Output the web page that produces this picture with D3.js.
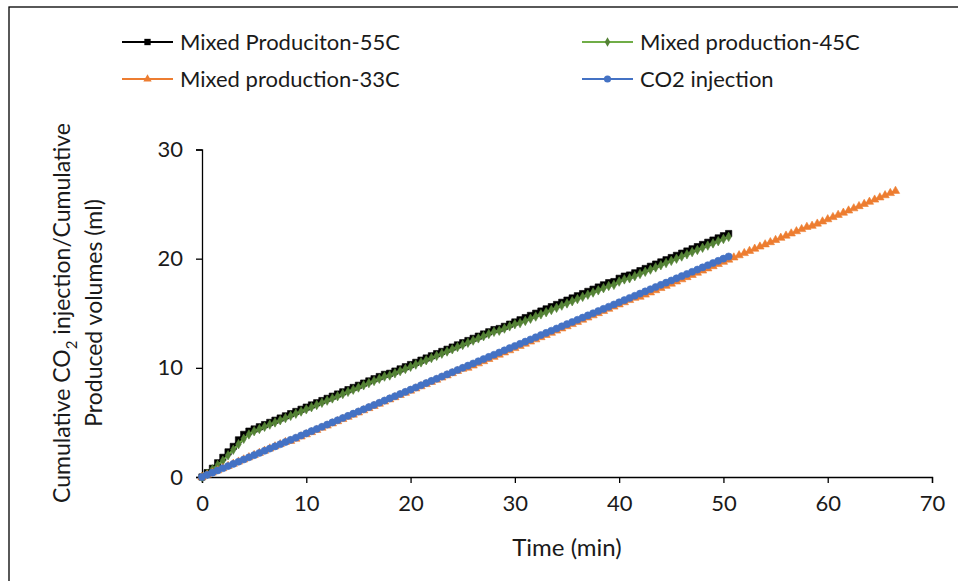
<!DOCTYPE html>
<html><head><meta charset="utf-8">
<script src="https://cdn.jsdelivr.net/npm/d3@7"></script>
<style>body{margin:0;background:#fff}svg{display:block}text{font-family:Lato,"Open Sans",sans-serif;fill:#1a1a1a}</style>
</head><body><svg id="c" width="958" height="581"></svg>
<script>
const time = [0,0.5,1,1.5,2,2.5,3,3.5,4,4.5,5,5.5,6,6.5,7,7.5,8,8.5,9,9.5,10,10.5,11,11.5,12,12.5,13,13.5,14,14.5,15,15.5,16,16.5,17,17.5,18,18.5,19,19.5,20,20.5,21,21.5,22,22.5,23,23.5,24,24.5,25,25.5,26,26.5,27,27.5,28,28.5,29,29.5,30,30.5,31,31.5,32,32.5,33,33.5,34,34.5,35,35.5,36,36.5,37,37.5,38,38.5,39,39.5,40,40.5,41,41.5,42,42.5,43,43.5,44,44.5,45,45.5,46,46.5,47,47.5,48,48.5,49,49.5,50,50.5,51,51.5,52,52.5,53,53.5,54,54.5,55,55.5,56,56.5,57,57.5,58,58.5,59,59.5,60,60.5,61,61.5,62,62.5,63,63.5,64,64.5,65,65.5,66,66.5];
const mixed55 = [0,0.4,0.8,1.3,1.8,2.3,2.8,3.4,3.9,4.2,4.4,4.6,4.8,5.0,5.2,5.4,5.6,5.8,6.0,6.2,6.4,6.6,6.8,7.0,7.2,7.4,7.6,7.8,8.0,8.2,8.4,8.6,8.8,9.0,9.2,9.4,9.5,9.7,9.9,10.1,10.3,10.5,10.7,10.9,11.1,11.3,11.5,11.7,11.9,12.1,12.3,12.5,12.7,12.9,13.1,13.3,13.5,13.6,13.8,14.0,14.2,14.4,14.6,14.8,15.0,15.2,15.4,15.6,15.8,16.0,16.2,16.4,16.6,16.8,17.0,17.2,17.4,17.6,17.8,17.9,18.2,18.4,18.5,18.7,18.9,19.1,19.3,19.5,19.7,19.9,20.1,20.3,20.5,20.7,20.9,21.1,21.3,21.5,21.7,21.9,22.1,22.3];
const mixed45 = [0,0.3,0.7,1.1,1.5,2.0,2.5,3.0,3.5,3.9,4.2,4.4,4.6,4.8,5.0,5.2,5.4,5.6,5.8,6.0,6.2,6.4,6.6,6.8,7.0,7.2,7.4,7.6,7.8,8.0,8.2,8.4,8.6,8.8,9.0,9.2,9.3,9.5,9.7,9.9,10.1,10.3,10.5,10.7,10.9,11.1,11.3,11.5,11.7,11.9,12.1,12.3,12.5,12.7,12.9,13.1,13.3,13.4,13.6,13.8,14.0,14.1,14.3,14.5,14.7,14.9,15.1,15.3,15.5,15.7,15.9,16.1,16.3,16.5,16.7,16.9,17.1,17.3,17.5,17.6,17.9,18.1,18.2,18.4,18.6,18.8,19.0,19.2,19.4,19.6,19.8,20.0,20.2,20.4,20.6,20.8,21.0,21.2,21.4,21.6,21.8,22.0];
const mixed33 = [0,0.2,0.4,0.6,0.8,1.0,1.2,1.4,1.6,1.8,2.0,2.2,2.4,2.6,2.8,3.0,3.2,3.3,3.5,3.7,3.9,4.1,4.3,4.5,4.7,4.9,5.1,5.3,5.5,5.7,5.9,6.1,6.3,6.5,6.7,6.9,7.1,7.3,7.5,7.7,7.9,8.1,8.3,8.5,8.7,8.9,9.1,9.3,9.5,9.7,9.9,10.0,10.2,10.4,10.6,10.8,11.0,11.2,11.4,11.6,11.8,12.0,12.2,12.4,12.6,12.8,13.0,13.2,13.4,13.6,13.8,14.0,14.2,14.4,14.6,14.8,15.0,15.2,15.4,15.6,15.8,16.0,16.2,16.4,16.5,16.7,16.9,17.1,17.3,17.5,17.7,17.9,18.1,18.3,18.5,18.7,18.9,19.1,19.3,19.5,19.7,19.9,20.1,20.3,20.5,20.7,20.9,21.1,21.3,21.5,21.7,21.9,22.1,22.3,22.5,22.7,22.9,23.0,23.2,23.4,23.6,23.8,24.0,24.2,24.4,24.6,24.8,25.0,25.2,25.4,25.6,25.8,26.0,26.2];
const co2inj = [0,0.2,0.4,0.6,0.8,1.0,1.2,1.4,1.6,1.8,2.0,2.2,2.4,2.6,2.8,3.0,3.2,3.4,3.6,3.8,4.0,4.2,4.4,4.6,4.8,5.0,5.2,5.4,5.6,5.8,6.0,6.2,6.4,6.6,6.8,7.0,7.2,7.4,7.6,7.8,8.0,8.2,8.4,8.6,8.8,9.0,9.2,9.4,9.6,9.8,10.0,10.2,10.4,10.6,10.8,11.0,11.2,11.4,11.6,11.8,12.0,12.2,12.4,12.6,12.8,13.0,13.2,13.4,13.6,13.8,14.0,14.2,14.4,14.6,14.8,15.0,15.2,15.4,15.6,15.8,16.0,16.2,16.4,16.6,16.8,17.0,17.2,17.4,17.6,17.8,18.0,18.2,18.4,18.6,18.8,19.0,19.2,19.4,19.6,19.8,20.0,20.2];
const seriesNames = ["Mixed Produciton-55C","Mixed production-45C","Mixed production-33C","CO2 injection"];
const xTicks = [0,10,20,30,40,50,60,70];
const yTicks = [0,10,20,30];

const svg = d3.select("#c");
svg.append("rect").attr("x",9).attr("y",7).attr("width",980).attr("height",600)
  .attr("fill","none").attr("stroke","#000").attr("stroke-width",1.3);

const x = d3.scaleLinear().domain([0,70]).range([202,932]);
const y = d3.scaleLinear().domain([0,30]).range([477,149.5]);

const styles = [
  {line:"#000000", fill:"#000000", sym:d3.symbolSquare, size:40},
  {line:"#70AD47", fill:"#548235", sym:d3.symbolDiamond, size:26},
  {line:"#ED7D31", fill:"#ED7D31", sym:d3.symbolTriangle, size:30},
  {line:"#4472C4", fill:"#4472C4", sym:d3.symbolCircle, size:40}
];
const allVals = [mixed55, mixed45, mixed33, co2inj];

// axes
const gx = svg.append("g").attr("transform",`translate(0,${y(0)})`)
  .call(d3.axisBottom(x).tickValues(xTicks).tickSize(6).tickPadding(12).tickFormat(d3.format("d")));
const gy = svg.append("g").attr("transform",`translate(${x(0)},0)`)
  .call(d3.axisLeft(y).tickValues(yTicks).tickSize(6).tickPadding(13).tickFormat(d3.format("d")));
[gx,gy].forEach(g=>{
  g.select(".domain").attr("stroke","#000").attr("stroke-width",1.3);
  g.selectAll(".tick line").attr("stroke","#000").attr("stroke-width",1.3);
  g.selectAll(".tick text").attr("font-family","Lato, sans-serif").attr("font-size",22).attr("fill","#1a1a1a");
});

// series
const line = d3.line().x((d,i)=>x(time[i])).y(d=>y(d));
allVals.forEach((vals,k)=>{
  const st = styles[k];
  const g = svg.append("g");
  g.append("path").datum(vals).attr("d",line).attr("fill","none").attr("stroke",st.line).attr("stroke-width",2);
  g.selectAll("path.m").data(vals).join("path").attr("class","m")
    .attr("transform",(d,i)=>`translate(${x(time[i])},${y(d)})`)
    .attr("d",d3.symbol().type(st.sym).size(st.size))
    .attr("fill",st.fill).attr("stroke",st.fill).attr("stroke-width",0.6);
});

// legend
const legPos = [[122,42],[582,42],[122,79],[582,79]];
seriesNames.forEach((n,k)=>{
  const st = styles[k];
  const [lx,ly] = legPos[k];
  const g = svg.append("g");
  g.append("line").attr("x1",lx).attr("x2",lx+51).attr("y1",ly).attr("y2",ly).attr("stroke",st.line).attr("stroke-width",2);
  g.append("path").attr("transform",`translate(${lx+25.5},${ly})`).attr("d",d3.symbol().type(st.sym).size(st.size)).attr("fill",st.fill);
  g.append("text").attr("x",lx+58).attr("y",ly).attr("dy","0.35em").attr("font-size",22).text(n);
});

// axis titles
svg.append("text").attr("x",567).attr("y",548).attr("dy","0.35em").attr("text-anchor","middle").attr("font-size",24).text("Time (min)");
const yt = svg.append("text").attr("transform","translate(62,313) rotate(-90)").attr("text-anchor","middle").attr("dy","0.35em").attr("font-size",23);
yt.append("tspan").text("Cumulative CO");
yt.append("tspan").attr("font-size",15).attr("dy","0.45em").text("2");
yt.append("tspan").attr("dy","-0.3em").text(" injection/Cumulative");
svg.append("text").attr("transform","translate(94,313) rotate(-90)").attr("text-anchor","middle").attr("dy","0.35em").attr("font-size",23).text("Produced volumes (ml)");
</script></body></html>
